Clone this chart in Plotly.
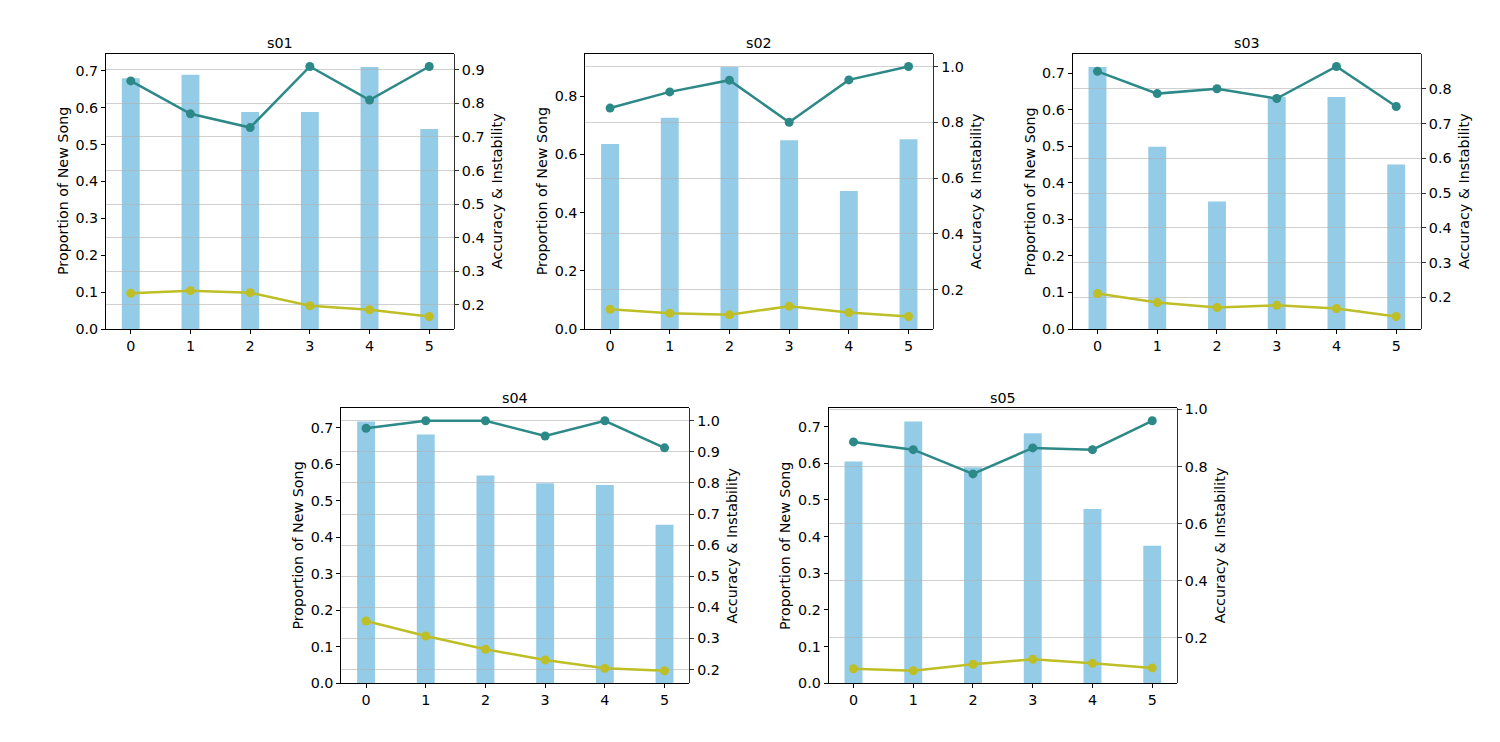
import plotly.graph_objects as go

W, H = 1500, 742

subjects = ["s01", "s02", "s03", "s04", "s05"]
steps = [0, 1, 2, 3, 4, 5]

new_song = [
    [0.680, 0.689, 0.588, 0.588, 0.710, 0.542],
    [0.636, 0.726, 0.900, 0.649, 0.474, 0.652],
    [0.717, 0.499, 0.349, 0.635, 0.635, 0.450],
    [0.717, 0.681, 0.569, 0.548, 0.543, 0.434],
    [0.605, 0.714, 0.589, 0.682, 0.475, 0.375],
]
accuracy = [
    [0.867, 0.769, 0.728, 0.910, 0.810, 0.910],
    [0.851, 0.909, 0.951, 0.800, 0.952, 1.000],
    [0.850, 0.786, 0.800, 0.772, 0.864, 0.749],
    [0.976, 1.000, 1.000, 0.951, 1.000, 0.913],
    [0.886, 0.859, 0.774, 0.865, 0.859, 0.960],
]
instability = [
    [0.234, 0.242, 0.236, 0.197, 0.185, 0.165],
    [0.130, 0.116, 0.110, 0.141, 0.118, 0.104],
    [0.211, 0.185, 0.171, 0.177, 0.168, 0.145],
    [0.356, 0.308, 0.265, 0.231, 0.204, 0.196],
    [0.092, 0.085, 0.108, 0.125, 0.111, 0.095],
]
left_ticks = [
    [0.0, 0.1, 0.2, 0.3, 0.4, 0.5, 0.6, 0.7],
    [0.0, 0.2, 0.4, 0.6, 0.8],
    [0.0, 0.1, 0.2, 0.3, 0.4, 0.5, 0.6, 0.7],
    [0.0, 0.1, 0.2, 0.3, 0.4, 0.5, 0.6, 0.7],
    [0.0, 0.1, 0.2, 0.3, 0.4, 0.5, 0.6, 0.7],
]
right_ticks = [
    [0.2, 0.3, 0.4, 0.5, 0.6, 0.7, 0.8, 0.9],
    [0.2, 0.4, 0.6, 0.8, 1.0],
    [0.2, 0.3, 0.4, 0.5, 0.6, 0.7, 0.8],
    [0.2, 0.3, 0.4, 0.5, 0.6, 0.7, 0.8, 0.9, 1.0],
    [0.2, 0.4, 0.6, 0.8, 1.0],
]

# panel boxes in pixels: (left, right, top, bottom)
boxes = [
    (106, 454, 54, 329),
    (585.3, 933.3, 54, 329),
    (1072.7, 1421, 54, 329),
    (341.3, 689.3, 408.3, 683.3),
    (828.7, 1177, 408.3, 683.3),
]

BAR_COLOR = "rgb(148,204,232)"
ACC_COLOR = "rgb(45,136,136)"
INS_COLOR = "rgb(190,190,38)"
GRID_COLOR = "rgba(176,176,176,0.6)"
FONT = "DejaVu Sans"
FS = 14.3
BAR_W = 0.3

fig = go.Figure()
layout = dict(
    width=W, height=H, autosize=False,
    margin=dict(l=0, r=0, t=0, b=0, pad=0, autoexpand=False),
    paper_bgcolor="white", plot_bgcolor="rgba(0,0,0,0)",
    showlegend=False, font=dict(family=FONT, size=FS, color="black"),
)
annotations = []

def nm(i):
    return "" if i == 1 else str(i)

xr = [min(steps) - BAR_W / 2 - 0.05 * (max(steps) - min(steps) + BAR_W),
      max(steps) + BAR_W / 2 + 0.05 * (max(steps) - min(steps) + BAR_W)]

for p, subj in enumerate(subjects):
    a = 2 * p + 1
    b = 2 * p + 2
    l, r, t, btm = boxes[p]
    xd = [l / W, r / W]
    yd = [1 - btm / H, 1 - t / H]

    fig.add_trace(go.Bar(x=steps, y=new_song[p], width=BAR_W,
                         marker=dict(color=BAR_COLOR, line=dict(width=0)),
                         xaxis="x" + nm(a), yaxis="y" + nm(a)))
    fig.add_trace(go.Scatter(x=steps, y=instability[p], mode="lines+markers",
                             line=dict(color=INS_COLOR, width=2.5),
                             marker=dict(color=INS_COLOR, size=9),
                             xaxis="x" + nm(b), yaxis="y" + nm(b)))
    fig.add_trace(go.Scatter(x=steps, y=accuracy[p], mode="lines+markers",
                             line=dict(color=ACC_COLOR, width=2.5),
                             marker=dict(color=ACC_COLOR, size=9),
                             xaxis="x" + nm(b), yaxis="y" + nm(b)))

    ymax = max(new_song[p]) * 1.05
    vals = accuracy[p] + instability[p]
    lo, hi = min(vals), max(vals)
    pad = 0.05 * (hi - lo)

    layout["xaxis" + nm(a)] = dict(
        domain=xd, anchor="y" + nm(a), range=xr, tickmode="array",
        tickvals=steps, ticktext=[str(s) for s in steps], showgrid=False,
        zeroline=False, showline=True, linecolor="black", linewidth=1,
        mirror=True, ticks="outside", ticklen=4, tickcolor="black",
        automargin=False,
        tickfont=dict(size=FS, family=FONT, color="black"))
    layout["yaxis" + nm(a)] = dict(
        domain=yd, anchor="x" + nm(a), range=[0, ymax], tickmode="array",
        tickvals=left_ticks[p], ticktext=["%.1f" % v for v in left_ticks[p]],
        showgrid=False, zeroline=False, showline=True, linecolor="black",
        linewidth=1, ticks="outside", ticklen=4, tickcolor="black",
        automargin=False,
        tickfont=dict(size=FS, family=FONT, color="black"))
    layout["xaxis" + nm(b)] = dict(
        domain=xd, anchor="y" + nm(b), range=xr, visible=False,
        showgrid=False, zeroline=False, automargin=False)
    layout["yaxis" + nm(b)] = dict(
        domain=yd, anchor="x" + nm(b), side="right",
        range=[lo - pad, hi + pad], tickmode="array",
        tickvals=right_ticks[p], ticktext=["%.1f" % v for v in right_ticks[p]],
        showgrid=True, gridcolor=GRID_COLOR, gridwidth=1, zeroline=False,
        showline=True, linecolor="#333333", linewidth=1, ticks="outside",
        ticklen=4, tickcolor="#333333", automargin=False,
        tickfont=dict(size=FS, family=FONT, color="black"))

    annotations.append(dict(text=subj, xref="paper", yref="paper",
                            x=(l + r) / 2 / W, y=1 - (t - 10.5) / H,
                            xanchor="center", yanchor="middle", showarrow=False,
                            font=dict(size=FS, family=FONT, color="black")))
    annotations.append(dict(text="Proportion of New Song", xref="paper",
                            yref="paper", x=(l - 43.5) / W,
                            y=1 - (t + btm) / 2 / H, textangle=-90,
                            xanchor="center", yanchor="middle", showarrow=False,
                            font=dict(size=FS, family=FONT, color="black")))
    annotations.append(dict(text="Accuracy &amp; Instability", xref="paper",
                            yref="paper", x=(r + 42.5) / W,
                            y=1 - (t + btm) / 2 / H, textangle=-90,
                            xanchor="center", yanchor="middle", showarrow=False,
                            font=dict(size=FS, family=FONT, color="black")))

layout["annotations"] = annotations
fig.update_layout(**layout)
fig.write_html(
    "out.html",
    config={"displayModeBar": False, "responsive": False},
    post_script="document.body.style.margin='0';document.body.style.overflow='hidden';",
)
